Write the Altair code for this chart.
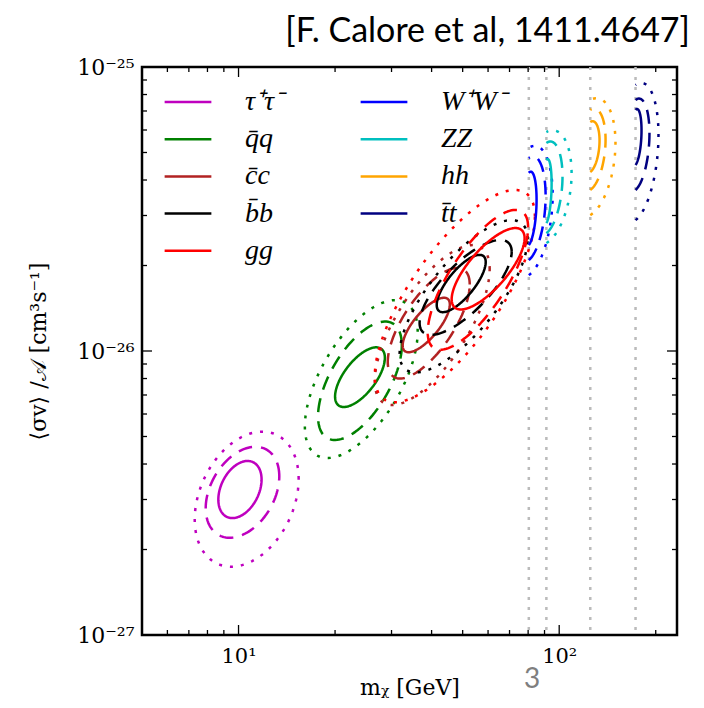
import numpy as np
import pandas as pd
import altair as alt

# ---------------- data ----------------
# legend order (column-major, two columns)
legend_order = ["τ⁺τ⁻", "q\u0304q", "c\u0304c", "b\u0304b", "gg", "W⁺W⁻", "ZZ", "hh", "t\u0304t"]
legend_colors = ["#BF00BF", "#008000", "#B22222", "#000000", "#FF0000",
                 "#0000FF", "#00BFBF", "#FFA500", "#000080"]
levels = ["1σ", "2σ", "3σ"]

# light channels: per level (solid, dashed, dotted) bounding box of the contour
light_names = ["τ⁺τ⁻", "q\u0304q", "c\u0304c", "b\u0304b", "gg"]
light_mx_lo = [[8.65, 7.9, 7.3], [20.0, 17.7, 16.1], [32.5, 29.2, 26.6], [41.5, 36.7, 31.8], [46.2, 38.9, 26.6]]
light_mx_hi = [[11.8, 13.4, 15.4], [28.6, 32.3, 36.2], [45.6, 52.6, 60.7], [59.0, 71.1, 79.7], [78.0, 80.0, 84.0]]
light_sv_lo = [[2.58e-27, 2.2e-27, 1.74e-27], [6.35e-27, 4.86e-27, 4.2e-27], [9.9e-27, 8.0e-27, 6.45e-27],
               [1.37e-26, 1.14e-26, 8.4e-27], [1.4e-26, 1.01e-26, 6.6e-27]]
light_sv_hi = [[4.1e-27, 4.6e-27, 5.2e-27], [1.03e-26, 1.27e-26, 1.51e-26], [1.54e-26, 1.96e-26, 2.36e-26],
               [2.18e-26, 2.46e-26, 2.89e-26], [2.71e-26, 3.14e-26, 3.69e-26]]
light_rho = [[0.35, 0.35, 0.3], [0.65, 0.6, 0.6], [0.75, 0.7, 0.7], [0.75, 0.75, 0.75], [0.75, 0.75, 0.75]]

# heavy channels: contours cut at the kinematic threshold m_chi = m_X
heavy_names = ["W⁺W⁻", "ZZ", "hh", "t\u0304t"]
heavy_mass = [80.4, 91.2, 125.0, 173.0]
heavy_mx_hi = [[85.0, 90.7, 95.4], [94.7, 102.4, 109.3], [133.6, 139.5, 149.8], [180.6, 191.2, 204.0]]
heavy_sv_lo = [[2.36e-26, 2.09e-26, 1.85e-26], [2.82e-26, 2.6e-26, 2.4e-26],
               [4.27e-26, 3.69e-26, 3.01e-26], [4.52e-26, 3.69e-26, 2.89e-26]]
heavy_sv_hi = [[4.24e-26, 4.78e-26, 5.19e-26], [4.7e-26, 5.4e-26, 5.9e-26],
               [6.4e-26, 7.06e-26, 7.65e-26], [7.06e-26, 7.65e-26, 8.64e-26]]
heavy_rho = 0.25

thresholds = [80.4, 91.2, 125.0, 173.0]

x_major = [10, 100]
x_minor = [6, 7, 8, 9, 20, 30, 40, 50, 60, 70, 80, 90, 200]
y_major = [1e-26]
y_minor = [2e-27, 3e-27, 4e-27, 5e-27, 6e-27, 7e-27, 8e-27, 9e-27,
           2e-26, 3e-26, 4e-26, 5e-26, 6e-26, 7e-26, 8e-26, 9e-26]

title_text = "[F. Calore et al, 1411.4647]"
page_text = "3"

# ---------------- contour outlines ----------------
rows = []


def add_contour(name, level, lxc, sx, lyc, sy, rho, ts):
    for i, t in enumerate(ts):
        lx = lxc + sx * np.cos(t)
        ly = lyc + sy * (rho * np.cos(t) + np.sqrt(1 - rho ** 2) * np.sin(t))
        rows.append(dict(channel=name, level=level, cid=f"{name}|{level}", i=i,
                         x=10 ** lx, y=10 ** ly))


full = np.linspace(0, 2 * np.pi, 121)
for k, name in enumerate(light_names):
    for j, lev in enumerate(levels):
        a, b = np.log10(light_mx_lo[k][j]), np.log10(light_mx_hi[k][j])
        c, d = np.log10(light_sv_lo[k][j]), np.log10(light_sv_hi[k][j])
        add_contour(name, lev, (a + b) / 2, (b - a) / 2, (c + d) / 2, (d - c) / 2,
                    light_rho[k][j], full)

half = np.linspace(-np.pi / 2, np.pi / 2, 61)
for k, name in enumerate(heavy_names):
    for j, lev in enumerate(levels):
        lxc = np.log10(heavy_mass[k])
        sx = np.log10(heavy_mx_hi[k][j]) - lxc
        c, d = np.log10(heavy_sv_lo[k][j]), np.log10(heavy_sv_hi[k][j])
        sy = (d - c) / 2 / np.sqrt(1 - heavy_rho ** 2)
        add_contour(name, lev, lxc, sx, (c + d) / 2, sy, heavy_rho, half)

df = pd.DataFrame(rows)

W, H = 535, 568
xs = alt.Scale(type="log", domain=[5, 233], nice=False)
ys = alt.Scale(type="log", domain=[1e-27, 1e-25], nice=False)

serif = "Liberation Serif"
xaxis = alt.Axis(values=x_major, labelExpr="datum.value < 50 ? '10¹' : '10²'",
                 ticks=False, domain=False, grid=False, labelFlush=False, labelOverlap=False,
                 labelFont="DejaVu Serif", labelFontSize=21, labelColor="black", labelPadding=10,
                 title="mᵪ  [GeV]", titleFont="DejaVu Serif", titleFontSize=22, titleFontWeight="normal",
                 titleColor="black", titlePadding=11)
yaxis = alt.Axis(values=[1e-27, 1e-26, 1e-25],
                 labelExpr="datum.value < 5e-27 ? '10⁻²⁷' : (datum.value < 5e-26 ? '10⁻²⁶' : '10⁻²⁵')",
                 ticks=False, domain=False, grid=False, labelFlush=False, labelOverlap=False,
                 labelFont="DejaVu Serif", labelFontSize=22, labelColor="black", labelPadding=8,
                 title="⟨σv⟩ /𝒜 [cm³s⁻¹]", titleFont="DejaVu Serif", titleFontSize=22,
                 titleFontWeight="normal", titleColor="black", titlePadding=26)

thr = alt.Chart(pd.DataFrame({"m": thresholds})).mark_rule(
    color="#BBBBBB", strokeWidth=2.5, strokeDash=[3, 7]
).encode(x=alt.X("m:Q", scale=xs, axis=xaxis))

contours = alt.Chart(df).mark_line(strokeWidth=2.5, strokeCap="butt", strokeJoin="round").encode(
    x=alt.X("x:Q", scale=xs, axis=xaxis),
    y=alt.Y("y:Q", scale=ys, axis=yaxis),
    color=alt.Color("channel:N", scale=alt.Scale(domain=legend_order, range=legend_colors),
                    sort=legend_order,
                    legend=alt.Legend(title=None, orient="none", legendX=24, legendY=13, columns=2,
                                      columnPadding=71, rowPadding=1.2, symbolType="M-1.14,0H1.14",
                                      symbolSize=1681, symbolStrokeWidth=2.5, labelFont=serif,
                                      labelFontStyle="italic", labelFontSize=28, labelOffset=35,
                                      labelColor="black", padding=0, labelLimit=250)),
    strokeDash=alt.StrokeDash("level:N", scale=alt.Scale(domain=levels,
                                                          range=[[1, 0], [14, 9], [3, 8]]),
                              legend=None),
    detail="cid:N",
    order="i:Q",
)


def xticks(vals, length):
    d = pd.DataFrame({"v": vals})
    bot = alt.Chart(d).mark_rule(color="black", strokeWidth=1.3).encode(
        x=alt.X("v:Q", scale=xs, axis=xaxis), y=alt.value(H), y2=alt.value(H - length))
    top = alt.Chart(d).mark_rule(color="black", strokeWidth=1.3).encode(
        x=alt.X("v:Q", scale=xs, axis=xaxis), y=alt.value(0), y2=alt.value(length))
    return [bot, top]


def yticks(vals, length):
    d = pd.DataFrame({"v": vals})
    left = alt.Chart(d).mark_rule(color="black", strokeWidth=1.3).encode(
        y=alt.Y("v:Q", scale=ys, axis=yaxis), x=alt.value(0), x2=alt.value(length))
    right = alt.Chart(d).mark_rule(color="black", strokeWidth=1.3).encode(
        y=alt.Y("v:Q", scale=ys, axis=yaxis), x=alt.value(W), x2=alt.value(W - length))
    return [left, right]


ticks = xticks(x_major, 10) + xticks(x_minor, 5) + yticks(y_major, 10) + yticks(y_minor, 5)

title_mark = alt.Chart(pd.DataFrame({"t": [title_text]})).mark_text(
    font="Lato", fontSize=34, color="black", align="right", baseline="alphabetic"
).encode(text="t:N", x=alt.value(548), y=alt.value(-25))

page_mark = alt.Chart(pd.DataFrame({"t": [page_text]})).mark_text(
    font="Lato", fontSize=28, color="#7F7F7F", align="center", baseline="alphabetic"
).encode(text="t:N", x=alt.value(390), y=alt.value(621))

chart = alt.layer(thr, contours, *ticks, title_mark, page_mark).properties(
    width=W, height=H,
    autosize=alt.AutoSizeParams(type="none"),
    padding={"left": 134, "top": 59, "right": 19, "bottom": 65},
    background="white",
).configure_view(stroke="black", strokeWidth=2.5)

chart.save("out.html", embed_options={"renderer": "svg", "actions": False})
